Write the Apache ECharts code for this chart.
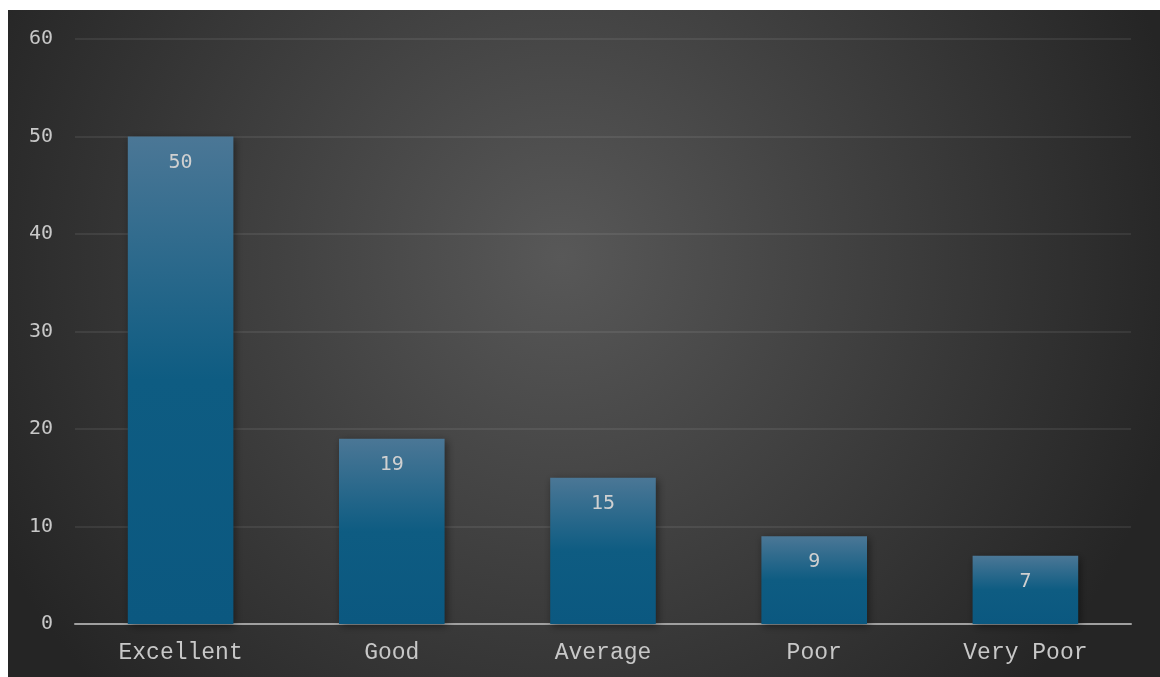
<!DOCTYPE html>
<html>
<head>
<meta charset="utf-8">
<script src="https://cdn.jsdelivr.net/npm/echarts@6/dist/echarts.min.js"></script>
<style>
html,body{margin:0;padding:0;background:#fff;}
#c{width:1160px;height:677px;}
</style>
</head>
<body>
<div id="c"></div>
<script>
var categories = ['Excellent', 'Good', 'Average', 'Poor', 'Very Poor'];
var values = [50, 19, 15, 9, 7];
var yTicks = [0, 10, 20, 30, 40, 50, 60];

var chart = echarts.init(document.getElementById('c'));
var mono = "'Courier New', 'Liberation Mono', monospace";
chart.setOption({
  backgroundColor: 'transparent',
  animation: false,
  graphic: [{
    type: 'rect', z: -10, silent: true,
    shape: {x: 8, y: 10, width: 1152, height: 667},
    style: {
      fill: new echarts.graphic.RadialGradient(0.48, 0.37, 0.95, [
        {offset: 0, color: '#585858'},
        {offset: 1, color: '#252525'}
      ])
    }
  }],
  grid: {left: 75, right: 29, top: 39, bottom: 53, containLabel: false},
  xAxis: {
    type: 'category',
    data: categories,
    axisLine: {show: true, lineStyle: {color: '#a0a0a0', width: 2}},
    axisTick: {show: false},
    axisLabel: {color: '#c8c8c8', fontFamily: mono, fontSize: 23, margin: 17}
  },
  yAxis: {
    type: 'value',
    min: yTicks[0], max: yTicks[yTicks.length - 1], interval: 10,
    axisLine: {show: false},
    axisTick: {show: false},
    axisLabel: {color: '#c8c8c8', fontFamily: "'DejaVu Sans Mono', monospace", fontSize: 20, margin: 22},
    splitLine: {lineStyle: {color: 'rgba(255,255,255,0.1)', width: 1.5}}
  },
  series: [{
    type: 'bar',
    data: values,
    barWidth: '50%',
    itemStyle: {
      color: new echarts.graphic.LinearGradient(0, 0, 0, 1, [
        {offset: 0, color: '#4b7796'},
        {offset: 0.5, color: '#0e5c82'},
        {offset: 1, color: '#0b5880'}
      ]),
      shadowColor: 'rgba(0,0,0,0.45)',
      shadowBlur: 8,
      shadowOffsetX: 2,
      shadowOffsetY: 2
    },
    label: {
      show: true,
      position: 'insideTop',
      distance: 16,
      color: '#d0d0d0',
      fontFamily: "'DejaVu Sans Mono', monospace",
      fontSize: 20
    }
  }]
});
</script>
</body>
</html>
